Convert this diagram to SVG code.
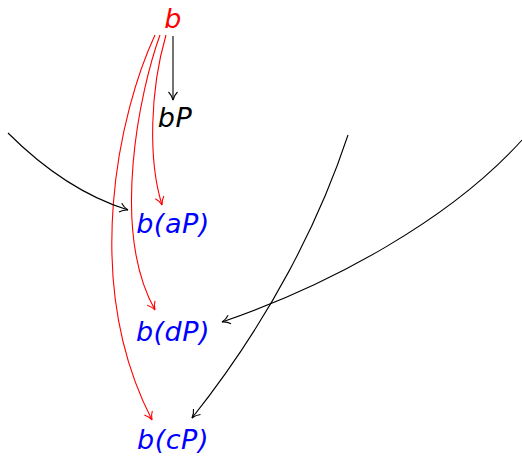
<svg xmlns="http://www.w3.org/2000/svg" width="522" height="456" viewBox="0 0 522 456">
<style>
text{font-family:"DejaVu Sans","Liberation Sans",sans-serif;font-style:italic;font-size:27px;text-anchor:middle;letter-spacing:0.5px}
.e{fill:none;stroke-width:1.1}
.k{stroke:#000}
.r{stroke:#f00}
</style>
<defs>
<marker id="ak" markerUnits="userSpaceOnUse" markerWidth="20" markerHeight="20" refX="0" refY="0" viewBox="-10 -10 20 20" orient="auto" overflow="visible">
<path d="M-8,-4.5 C-5.5,-2 -2.5,-0.6 0,0 C-2.5,0.6 -5.5,2 -8,4.5" fill="none" stroke="#000" stroke-width="1.1"/>
</marker>
<marker id="ar" markerUnits="userSpaceOnUse" markerWidth="20" markerHeight="20" refX="0" refY="0" viewBox="-10 -10 20 20" orient="auto" overflow="visible">
<path d="M-8,-4.5 C-5.5,-2 -2.5,-0.6 0,0 C-2.5,0.6 -5.5,2 -8,4.5" fill="none" stroke="#f00" stroke-width="1.1"/>
</marker>
</defs>
<g id="connectors">
<path class="e k" d="M173,36 L173,100" marker-end="url(#ak)"/>
<path class="e r" d="M166,35 C150,90 148,160 162,205" marker-end="url(#ar)"/>
<path class="e r" d="M160,35 C140,90 110,230 155,310" marker-end="url(#ar)"/>
<path class="e r" d="M155,35 C120,110 80,280 152,420" marker-end="url(#ar)"/>
<path class="e k" d="M8,133 C40,165 80,195 128,210" marker-end="url(#ak)"/>
<path class="e k" d="M348,135 C320,220 270,320 192,418" marker-end="url(#ak)"/>
<path class="e k" d="M522,140 C450,220 330,285 222,322" marker-end="url(#ak)"/>
</g>
<g id="n-b"><text x="173" y="28" fill="#f00">b</text></g>
<g id="n-bP"><text x="175" y="127" fill="#000">bP</text></g>
<g id="n-baP"><text x="173" y="233" fill="#00f">b(aP)</text></g>
<g id="n-bdP"><text x="173" y="341" fill="#00f">b(dP)</text></g>
<g id="n-bcP"><text x="173" y="449" fill="#00f">b(cP)</text></g>
</svg>
